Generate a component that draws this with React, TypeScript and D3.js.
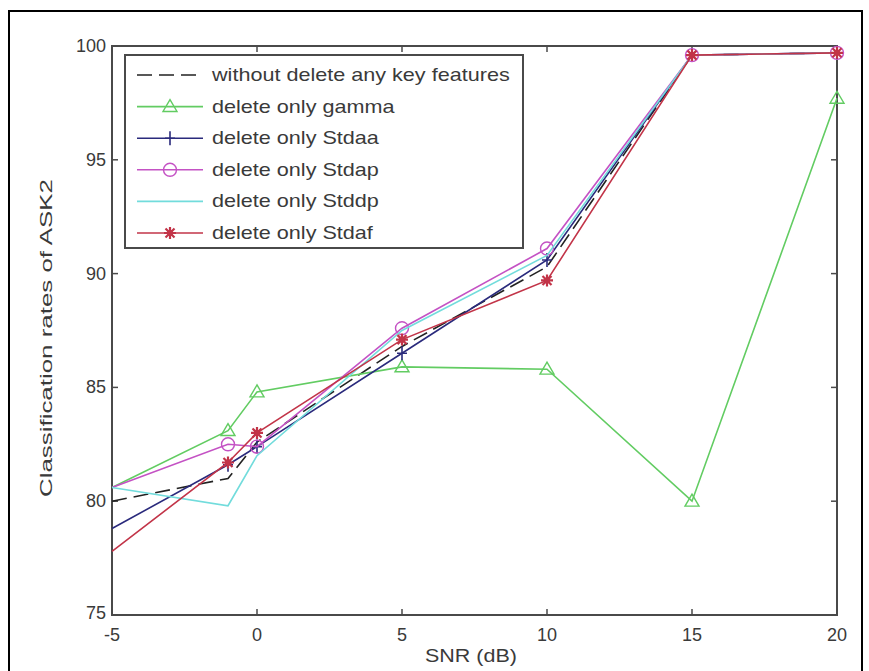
import React from "react";
import * as d3 from "d3";

const snr = [-5, -1, 0, 5, 10, 15, 20];
const withoutDelete = [80.0, 81.0, 82.6, 86.8, 90.3, 99.6, 99.7];
const deleteGamma = [80.6, 83.1, 84.8, 85.9, 85.8, 80.0, 97.7];
const deleteStdaa = [78.8, 81.6, 82.4, 86.5, 90.6, 99.6, 99.7];
const deleteStdap = [80.6, 82.5, 82.4, 87.6, 91.1, 99.6, 99.7];
const deleteStddp = [80.6, 79.8, 82.0, 87.5, 90.8, 99.6, 99.7];
const deleteStdaf = [77.8, 81.7, 83.0, 87.1, 89.7, 99.6, 99.7];
const seriesNames = [
  "without delete any key features",
  "delete only gamma",
  "delete only Stdaa",
  "delete only Stdap",
  "delete only Stddp",
  "delete only Stdaf",
];
const xTicks = [-5, 0, 5, 10, 15, 20];
const yTicks = [75, 80, 85, 90, 95, 100];

const W = 869, H = 671;
const L = 112, R = 837, T = 46, B = 615;

type Marker = "none" | "tri" | "plus" | "circle" | "star";
const styles: { color: string; dash?: string; marker: Marker }[] = [
  { color: "#222222", dash: "15,7", marker: "none" },
  { color: "#62cc62", marker: "tri" },
  { color: "#2a2a7c", marker: "plus" },
  { color: "#c452c4", marker: "circle" },
  { color: "#72dcdc", marker: "none" },
  { color: "#c23448", marker: "star" },
];

function MarkerShape({ kind, x, y, color }: { kind: Marker; x: number; y: number; color: string }) {
  if (kind === "tri") {
    const s = 7;
    return <path d={`M${x},${y - s}L${x + s},${y + s * 0.7}L${x - s},${y + s * 0.7}Z`} fill="none" stroke={color} strokeWidth={1.4} />;
  }
  if (kind === "plus") {
    return <path d={`M${x},${y - 7}V${y + 7}M${x - 5},${y}H${x + 5}`} stroke={color} strokeWidth={1.6} />;
  }
  if (kind === "circle") {
    return <circle cx={x} cy={y} r={6.5} fill="none" stroke={color} strokeWidth={1.4} />;
  }
  if (kind === "star") {
    return (
      <g stroke={color} strokeWidth={2.2}>
        <path d={`M${x},${y - 6}V${y + 6}M${x - 6},${y}H${x + 6}M${x - 4.5},${y - 4.5}L${x + 4.5},${y + 4.5}M${x - 4.5},${y + 4.5}L${x + 4.5},${y - 4.5}`} />
        <circle cx={x} cy={y} r={3} fill={color} stroke="none" />
      </g>
    );
  }
  return null;
}

export default function App() {
  const x = d3.scaleLinear().domain([-5, 20]).range([L, R]);
  const y = d3.scaleLinear().domain([75, 100]).range([B, T]);
  const data = [withoutDelete, deleteGamma, deleteStdaa, deleteStdap, deleteStddp, deleteStdaf];
  const line = d3
    .line<number>()
    .x((_, i) => x(snr[i]))
    .y((d) => y(d));
  const axisColor = "#4a4a4a";
  const textColor = "#3a3a3a";
  const font = "Liberation Sans, Arial, sans-serif";

  const legX = 125, legY = 55, legW = 398, legH = 193;
  const rowY = (i: number) => legY + 20 + i * 31.6;
  const textX = 212;

  return (
    <svg width={W} height={H} style={{ position: "absolute", left: 0, top: 0, background: "#fff" }} fontFamily={font}>
      <rect x={0} y={0} width={W} height={H} fill="#fff" />
      <rect x={9} y={11} width={853} height={680} fill="none" stroke="#000" strokeWidth={2} />
      {/* axes box */}
      <rect x={L} y={T} width={R - L} height={B - T} fill="none" stroke={axisColor} strokeWidth={2} />
      {xTicks.map((t) => (
        <g key={"xt" + t}>
          <line x1={x(t)} x2={x(t)} y1={B} y2={B - 6} stroke={axisColor} strokeWidth={1.5} />
          <line x1={x(t)} x2={x(t)} y1={T} y2={T + 6} stroke={axisColor} strokeWidth={1.5} />
          <text x={x(t)} y={B + 26} textAnchor="middle" fontSize={18} fill={textColor}>{t}</text>
        </g>
      ))}
      {yTicks.map((t) => (
        <g key={"yt" + t}>
          <line x1={L} x2={L + 6} y1={y(t)} y2={y(t)} stroke={axisColor} strokeWidth={1.5} />
          <line x1={R} x2={R - 6} y1={y(t)} y2={y(t)} stroke={axisColor} strokeWidth={1.5} />
          {t !== 75 && (
            <text x={L - 6} y={y(t) + 6} textAnchor="end" fontSize={18} fill={textColor}>{t}</text>
          )}
        </g>
      ))}
      <text x={L - 6} y={B + 4} textAnchor="end" fontSize={18} fill={textColor}>75</text>
      <text x={471} y={662} textAnchor="middle" fontSize={18} fill={textColor} textLength={92} lengthAdjust="spacingAndGlyphs">SNR (dB)</text>
      <text transform={`translate(52,338) rotate(-90)`} textAnchor="middle" fontSize={16} fill={textColor} textLength={318} lengthAdjust="spacingAndGlyphs">
        Classification rates of ASK2
      </text>
      {/* series */}
      {data.map((vals, si) => (
        <g key={"s" + si}>
          <path d={line(vals) || ""} fill="none" stroke={styles[si].color} strokeWidth={1.6} strokeDasharray={styles[si].dash} />
          {vals.map((v, i) =>
            snr[i] > -5 ? (
              <MarkerShape key={i} kind={styles[si].marker} x={x(snr[i])} y={y(v)} color={styles[si].color} />
            ) : null
          )}
        </g>
      ))}
      {/* legend */}
      <rect x={legX} y={legY} width={legW} height={legH} fill="#fff" stroke={axisColor} strokeWidth={2} />
      {seriesNames.map((name, i) => (
        <g key={"lg" + i}>
          <line x1={137} x2={203} y1={rowY(i)} y2={rowY(i)} stroke={styles[i].color} strokeWidth={1.6} strokeDasharray={styles[i].dash} />
          <MarkerShape kind={styles[i].marker} x={170} y={rowY(i)} color={styles[i].color} />
          <g transform={`translate(${textX},${rowY(i) + 6}) scale(1.2,1)`}>
            <text x={0} y={0} fontSize={18} fill={textColor}>{name}</text>
          </g>
        </g>
      ))}
    </svg>
  );
}
